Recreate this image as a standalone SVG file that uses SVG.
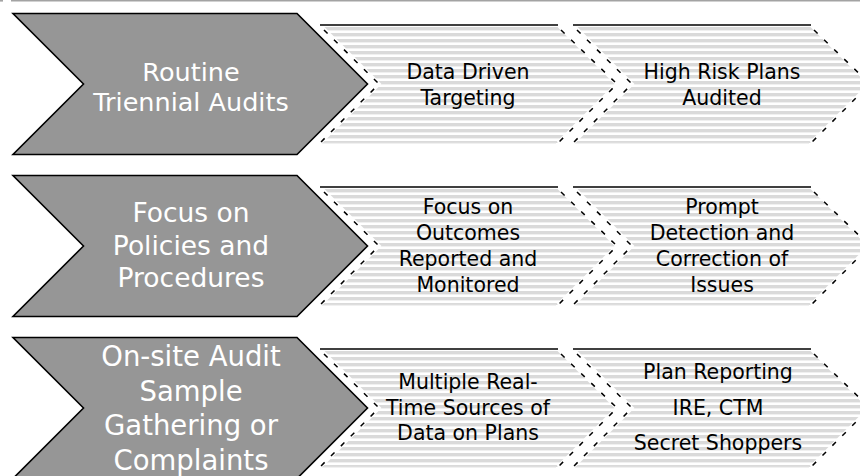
<svg xmlns="http://www.w3.org/2000/svg" width="860" height="476" viewBox="0 0 860 476">
  <defs>
    <pattern id="stripes" patternUnits="userSpaceOnUse" x="0" y="3" width="10" height="6">
      <rect width="10" height="6" fill="#ffffff"/>
      <rect width="10" height="3.4" fill="#dadada"/>
    </pattern>
    <style>
      .gray { fill: #969696; stroke: #000; stroke-width: 1.6; stroke-linejoin: miter; }
      .gtext { font-family: "DejaVu Sans", "Liberation Sans", sans-serif; fill: #ffffff; text-anchor: middle; }
      .sfill { fill: url(#stripes); stroke: none; }
      .halo { fill: none; stroke: #ffffff; stroke-width: 3.5; }
      .dash { fill: none; stroke: #000; stroke-width: 1.5; stroke-dasharray: 5 9; }
      .topline { stroke: #000; stroke-width: 1.3; }
      .botline { stroke: #e2e2e2; stroke-width: 1.2; }
      .stext { font-family: "DejaVu Sans", "Liberation Sans", sans-serif; font-size: 20.5px; fill: #000; text-anchor: middle; }
      .frame { stroke: #a3a3a3; stroke-width: 1.6; }
    </style>
  </defs>

  <rect width="860" height="476" fill="#ffffff"/>
  <line class="frame" x1="11" y1="0.8" x2="860" y2="0.8"/>
  <line class="frame" x1="0" y1="0.8" x2="3" y2="0.8"/>

  <!-- Row 1 -->
  <g id="row1-main">
    <path class="gray" d="M13,13.5 L297,13.5 L367.5,84 L297,154.5 L13,154.5 L83.5,84 Z"/>
    <text class="gtext" font-size="25.5" x="191" y="80.5">Routine</text>
    <text class="gtext" font-size="25.5" x="191" y="110.5">Triennial Audits</text>
  </g>
  <g id="row1-step1">
    <path class="sfill" d="M320,25 L558,25 L617,84 L558,143 L320,143 L379,84 Z"/>
    <path class="halo" d="M558,25 L617,84 L558,143 M320,25 L379,84 L320,143"/>
    <path class="dash" d="M561,30 L617,84 L558,143 M324,30 L379,84 L320,143"/>
    <line class="topline" x1="320" y1="25" x2="558" y2="25"/>
    <line class="botline" x1="322" y1="143" x2="556" y2="143"/>
    <text class="stext" x="468" y="79">Data Driven</text>
    <text class="stext" x="468" y="104.5">Targeting</text>
  </g>
  <g id="row1-step2">
    <path class="sfill" d="M573,25 L811,25 L870,84 L811,143 L573,143 L632,84 Z"/>
    <path class="halo" d="M811,25 L870,84 L811,143 M573,25 L632,84 L573,143"/>
    <path class="dash" d="M814,30 L870,84 L811,143 M577,30 L632,84 L573,143"/>
    <line class="topline" x1="573" y1="25" x2="811" y2="25"/>
    <line class="botline" x1="575" y1="143" x2="809" y2="143"/>
    <text class="stext" x="722" y="79">High Risk Plans</text>
    <text class="stext" x="722" y="104.5">Audited</text>
  </g>

  <!-- Row 2 -->
  <g id="row2-main">
    <path class="gray" d="M13,175.5 L297,175.5 L367.5,246 L297,316.5 L13,316.5 L83.5,246 Z"/>
    <text class="gtext" font-size="26.5" x="191" y="222">Focus on</text>
    <text class="gtext" font-size="26.5" x="191" y="254.5">Policies and</text>
    <text class="gtext" font-size="26.5" x="191" y="287">Procedures</text>
  </g>
  <g id="row2-step1">
    <path class="sfill" d="M320,187 L558,187 L617,246 L558,305 L320,305 L379,246 Z"/>
    <path class="halo" d="M558,187 L617,246 L558,305 M320,187 L379,246 L320,305"/>
    <path class="dash" d="M561,192 L617,246 L558,305 M324,192 L379,246 L320,305"/>
    <line class="topline" x1="320" y1="187" x2="558" y2="187"/>
    <line class="botline" x1="322" y1="305" x2="556" y2="305"/>
    <text class="stext" x="468" y="214">Focus on</text>
    <text class="stext" x="468" y="240">Outcomes</text>
    <text class="stext" x="468" y="266">Reported and</text>
    <text class="stext" x="468" y="292">Monitored</text>
  </g>
  <g id="row2-step2">
    <path class="sfill" d="M573,187 L811,187 L870,246 L811,305 L573,305 L632,246 Z"/>
    <path class="halo" d="M811,187 L870,246 L811,305 M573,187 L632,246 L573,305"/>
    <path class="dash" d="M814,192 L870,246 L811,305 M577,192 L632,246 L573,305"/>
    <line class="topline" x1="573" y1="187" x2="811" y2="187"/>
    <line class="botline" x1="575" y1="305" x2="809" y2="305"/>
    <text class="stext" x="722" y="214">Prompt</text>
    <text class="stext" x="722" y="240">Detection and</text>
    <text class="stext" x="722" y="266">Correction of</text>
    <text class="stext" x="722" y="292">Issues</text>
  </g>

  <!-- Row 3 -->
  <g id="row3-main">
    <path class="gray" d="M13,337.5 L297,337.5 L367.5,408 L297,478.5 L13,478.5 L83.5,408 Z"/>
    <text class="gtext" font-size="27.5" x="191" y="366">On-site Audit</text>
    <text class="gtext" font-size="27.5" x="191" y="400.5">Sample</text>
    <text class="gtext" font-size="27.5" x="191" y="435">Gathering or</text>
    <text class="gtext" font-size="27.5" x="191" y="469.5">Complaints</text>
  </g>
  <g id="row3-step1">
    <path class="sfill" d="M320,349 L558,349 L617,408 L558,467 L320,467 L379,408 Z"/>
    <path class="halo" d="M558,349 L617,408 L558,467 M320,349 L379,408 L320,467"/>
    <path class="dash" d="M561,354 L617,408 L558,467 M324,354 L379,408 L320,467"/>
    <line class="topline" x1="320" y1="349" x2="558" y2="349"/>
    <line class="botline" x1="322" y1="467" x2="556" y2="467"/>
    <text class="stext" x="468" y="388.5">Multiple Real-</text>
    <text class="stext" x="468" y="414.5">Time Sources of</text>
    <text class="stext" x="468" y="440">Data on Plans</text>
  </g>
  <g id="row3-step2">
    <path class="sfill" d="M573,349 L811,349 L870,408 L811,467 L573,467 L632,408 Z"/>
    <path class="halo" d="M811,349 L870,408 L811,467 M573,349 L632,408 L573,467"/>
    <path class="dash" d="M814,354 L870,408 L811,467 M577,354 L632,408 L573,467"/>
    <line class="topline" x1="573" y1="349" x2="811" y2="349"/>
    <line class="botline" x1="575" y1="467" x2="809" y2="467"/>
    <text class="stext" x="718" y="379">Plan Reporting</text>
    <text class="stext" x="718" y="415">IRE, CTM</text>
    <text class="stext" x="718" y="450">Secret Shoppers</text>
  </g>

  <g id="connectors"/>
</svg>
